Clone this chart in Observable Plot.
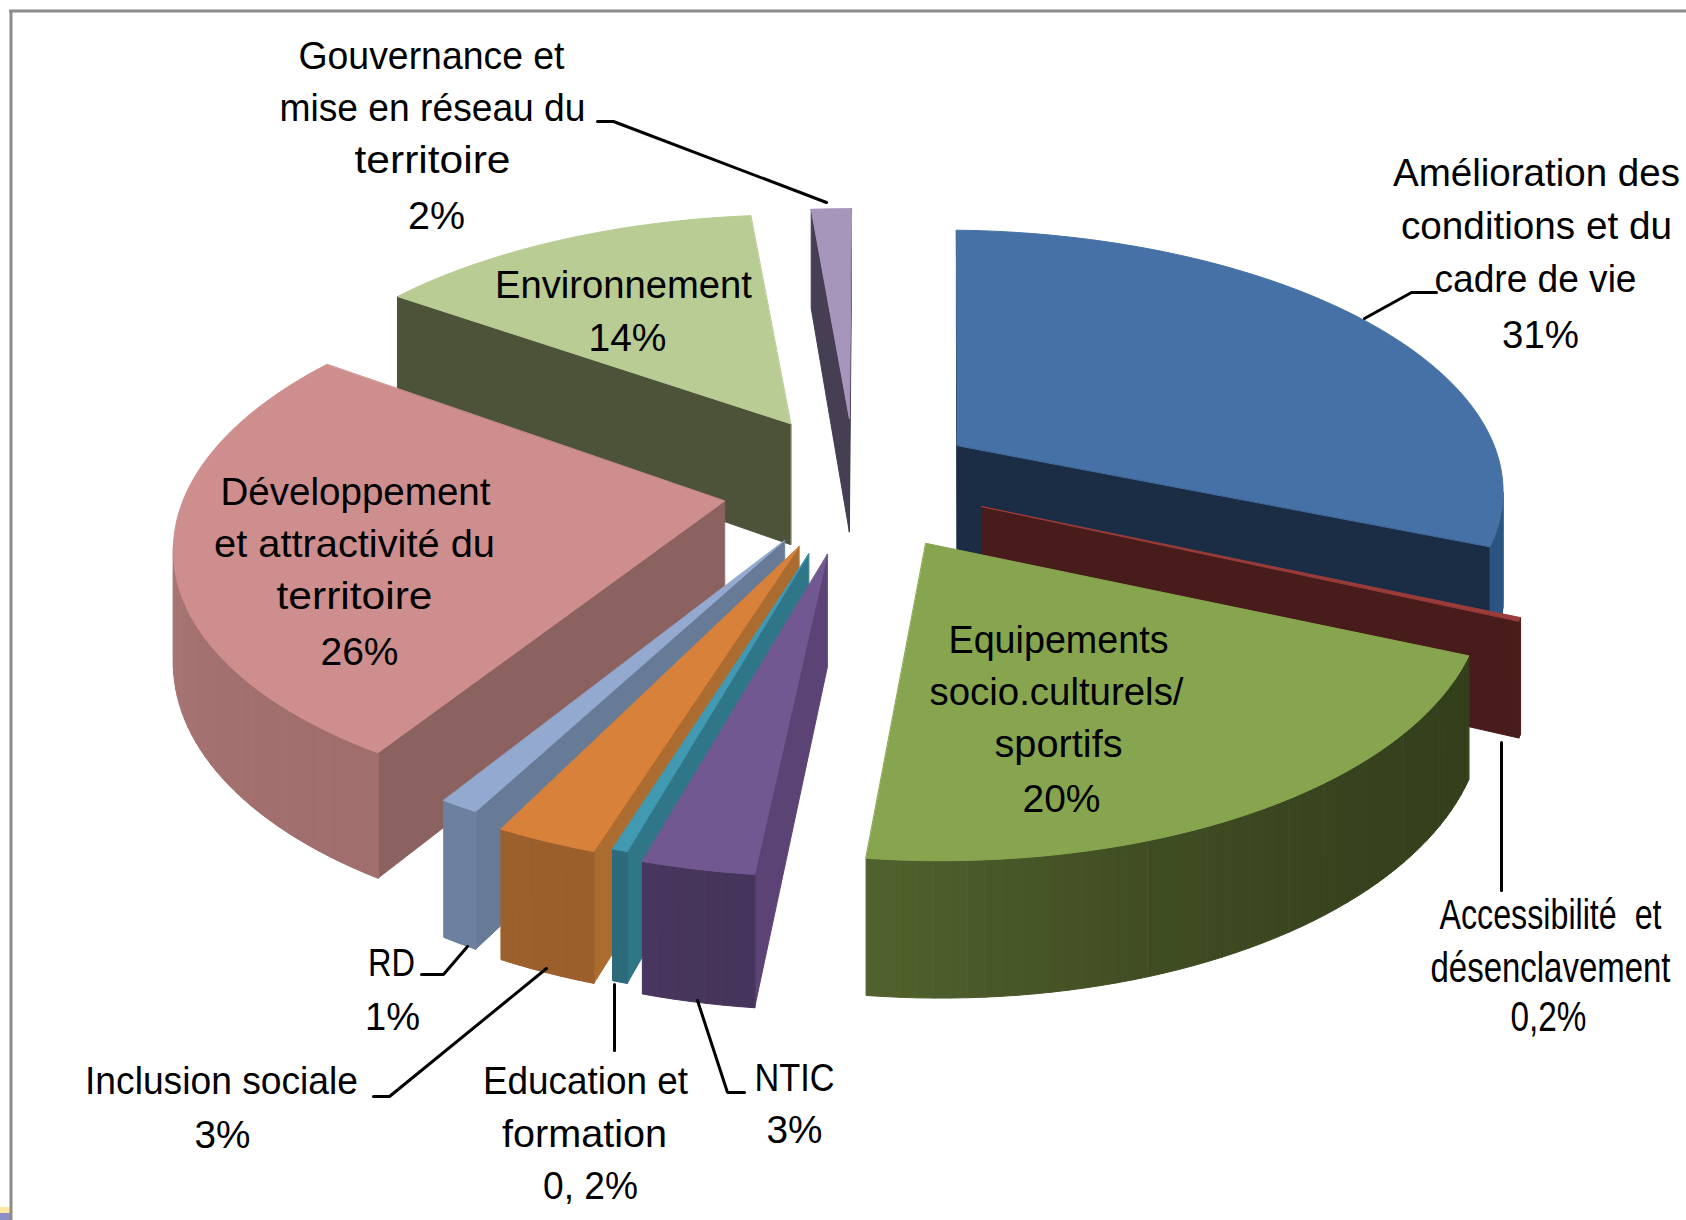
<!DOCTYPE html>
<html><head><meta charset="utf-8">
<style>html,body{margin:0;padding:0;background:#fff}svg{display:block}</style>
<script src="https://cdn.jsdelivr.net/npm/d3@7"></script>
<script src="https://cdn.jsdelivr.net/npm/@observablehq/plot@0.6"></script>
</head><body><div id="chart"></div>
<script>
// --- data, clockwise from 12 o'clock
const categories = ["Amélioration des conditions et du cadre de vie","Accessibilité et désenclavement","Equipements socio.culturels/sportifs","NTIC","Education et formation","Inclusion sociale","RD","Développement et attractivité du territoire","Environnement","Gouvernance et mise en réseau du territoire"];
const shares = [31,0.2,20,3,0.2,3,1,26,14,2];
// --- style per slice
const explode = [0.27,0.25,0.30,0.26,0.24,0.22,0.16,0.22,0.22,0.24];
const shiftX  = [-0.016,0.022,-0.004,0.019,0.005,0.002,-0.03,-0.008,0.003,0.012];
const shiftY  = [0,0,-0.02,0.027,0.05,0.05,0.092,0.037,-0.042,-0.017];
const radius  = [1.025,1,0.99,0.99,0.965,1,0.985,1,1.02,1.03];
const startAdj = [-0.8,0,-1.2,0,-0.7,0,0,0,0,0];
const endAdj   = [-1,0,0.5,-0.6,0,-1.6,0,0,-1.2,-2.2];
const depths   = [108,108,112,108,108,108,115,108,125,118];
const topColors  = ["#4571a6","#9b3c3a","#87a54e","#725890","#4199b2","#d8813b","#93a9cf","#ce8e8d","#b8cc94","#a796bb"];
const cutColors  = ["#1b2d45","#471c1a","#343f1c","#5b4475","#2f7788","#ac6c30","#677b97","#8c6260","#4d5339","#463e52"];
const wallFrom   = ["#2b5482","#471c1a","#343f1c","#45345b","#2d6a7c","#9a5f2b","#6e80a0","#a06f6d","#4d5339","#463e52"];
const wallTo     = ["#2b5482","#471c1a","#51622d","#4a365e","#2d6a7c","#9c602c","#6e80a0","#c08a88","#4d5339","#463e52"];
const paintOrder = [9,8,0,1,7,6,5,4,3,2];
// --- text
const labelText  = ["Gouvernance et","mise en réseau du","territoire","2%","Amélioration des","conditions et du","cadre de vie","31%","Environnement","14%","Développement","et attractivité du","territoire","26%","Equipements","socio.culturels/","sportifs","20%","Accessibilité  et","désenclavement","0,2%","RD","1%","Inclusion sociale","3%","Education et","formation","0, 2%","NTIC","3%"];
const labelX     = [431,432,432,436,1536,1536,1535,1540,623,627,355,354,354,359,1058,1056,1058,1061,1550,1550,1548,391,392,221,222,585,584,590,794,794];
const labelY     = [56,108,160,216,173,226,279,335,285,338,492,544,596,652,640,692,744,799,915,968,1017,963,1017,1081,1135,1081,1134,1186,1078,1130];
const labelWidth = [266,306,156,57,287,271,202,77,257,78,270,281,156,78,220,254,128,78,222,240,76,47,55,273,56,205,165,95,80,56];
const narrowLabels = ["Accessibilité  et","désenclavement","0,2%"];
const leaders = [
 [[597,121],[613,121],[826,202]],
 [[1436,292],[1411,292],[1364,318]],
 [[1501,742],[1501,890]],
 [[421,974],[443,974],[467,946]],
 [[373,1096],[389,1096],[546,968]],
 [[614,984],[614,1050]],
 [[744,1092],[727,1092],[697,1000]]
];
// --- projection of the tilted pie
const cx = 845, cy = 480, rx = 535, ry = 252, persp = 0.15, startDeg = 2.5;
const project = (X, Y, h) => { const k = 1/(1 - persp*Y); return {x: cx + rx*X*k, y: cy + (ry*Y + h)*k}; };
const total = d3.sum(shares);
const rows = [];
let id = 0;
const add = (pts, c) => { id++; for (const p of pts) rows.push({id, x:p.x, y:p.y, c}); };
let acc = 0;
const slices = shares.map((v,i) => { const a0 = startDeg + acc/total*360; acc += v; const a1 = startDeg + acc/total*360; return {i,a0:a0+startAdj[i],a1:a1+endAdj[i],mid:(a0+a1)/2}; });
for (const si of paintOrder) {
  const {i,a0,a1,mid} = slices[si];
  const m = mid*Math.PI/180, e = explode[i], r = radius[i], depth = depths[i];
  const ax = e*Math.sin(m)+shiftX[i], ay = -e*Math.cos(m)+shiftY[i];
  const n = Math.max(2, Math.round((a1-a0)/1.5));
  const rim = d3.range(n+1).map(j => { const t=(a0+(a1-a0)*j/n)*Math.PI/180; return [ax+r*Math.sin(t), ay-r*Math.cos(t)]; });
  const wall = (A,B,c) => {
    const q=[project(A[0],A[1],0),project(B[0],B[1],0),project(B[0],B[1],depth),project(A[0],A[1],depth)];
    if (d3.polygonArea(q.map(p=>[p.x,p.y])) > 0) add(q,c);
  };
  const apex=[ax,ay];
  wall(rim[n],apex,cutColors[i]);
  wall(apex,rim[0],cutColors[i]);
  const mix = d3.interpolateRgb(wallFrom[i],wallTo[i]);
  for (let j=0;j<n;j++) wall(rim[j],rim[j+1],mix(((j+.5)/n)**2));
  add([apex,...rim].map(p=>project(p[0],p[1],0)), topColors[i]);
}
const leaderRows = leaders.flatMap((l,k)=>l.map(p=>({k,x:p[0],y:p[1]})));
const labelRows = labelText.map((t,i)=>({t,x:labelX[i],y:labelY[i],w:labelWidth[i]}));
const isNarrow = r => narrowLabels.includes(r.t);
const chart = Plot.plot({
  width:1686,height:1220,margin:0,
  x:{domain:[0,1686],range:[0,1686],axis:null},
  y:{domain:[0,1220],range:[0,1220],axis:null},
  color:{type:"identity"},
  style:{background:"#fff",maxWidth:"none"},
  marks:[
    Plot.rect([{x1:0,x2:10,y1:1207,y2:1213}],{x1:"x1",x2:"x2",y1:"y1",y2:"y2",fill:"#ffe7a0"}),
    Plot.rect([{x1:0,x2:10,y1:1213,y2:1220}],{x1:"x1",x2:"x2",y1:"y1",y2:"y2",fill:"#8f8fc8"}),
    Plot.ruleX([10.5],{y1:10,y2:1220,stroke:"#8c8c8c",strokeWidth:3}),
    Plot.ruleY([10.5],{x1:9,x2:1686,stroke:"#8c8c8c",strokeWidth:3}),
    Plot.line(rows,{x:"x",y:"y",z:"id",fill:"c",stroke:"c",strokeWidth:1,curve:"linear-closed"}),
    Plot.line(leaderRows,{x:"x",y:"y",z:"k",stroke:"#000",strokeWidth:3,curve:"linear",strokeLinejoin:"miter"}),
    Plot.text(labelRows.filter(r=>!isNarrow(r)),{x:"x",y:"y",text:"t",fontSize:39,fontFamily:"Liberation Sans",fill:"#000",textAnchor:"middle",lineAnchor:"middle"}),
    Plot.text(labelRows.filter(isNarrow),{x:"x",y:"y",text:"t",fontSize:42,fontFamily:"'Liberation Sans Narrow','Liberation Sans'",fill:"#000",textAnchor:"middle",lineAnchor:"middle"})
  ]
});
document.getElementById("chart").append(chart);
// the reference's glyphs are squeezed: fit each label to its measured width
chart.querySelectorAll("g[aria-label='text'] text").forEach(el=>{
  const row = labelRows.find(r=>r.t===el.textContent);
  if (!row) return;
  el.setAttribute("textLength",row.w); el.setAttribute("lengthAdjust","spacingAndGlyphs"); el.setAttribute("xml:space","preserve");
});
</script></body></html>
